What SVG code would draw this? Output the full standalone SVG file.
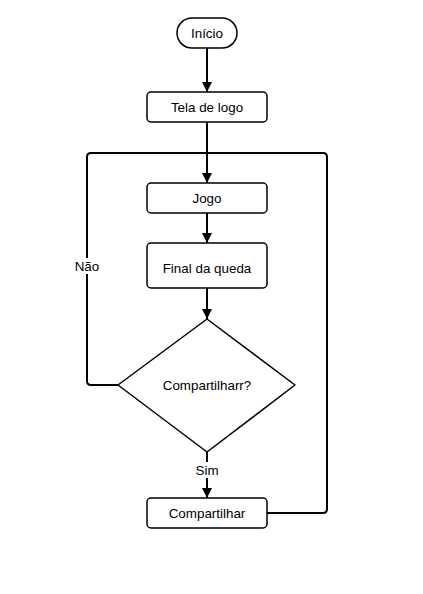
<svg xmlns="http://www.w3.org/2000/svg" width="423" height="594" viewBox="0 0 423 594">
<style>
.n{fill:#fff;stroke:#000;stroke-width:1.5}
.t{font-family:"Liberation Sans",Arial,sans-serif;font-size:13.4px;fill:#000;text-anchor:middle;dominant-baseline:central}
.c{fill:none;stroke:#000;stroke-width:2}
</style>
<defs>
<marker id="a" markerWidth="10" markerHeight="12" refX="10" refY="5" orient="auto" markerUnits="userSpaceOnUse" viewBox="0 0 10 10">
<path d="M0,0 L10,5 L0,10 Z" fill="#000"/>
</marker>
</defs>
<rect width="423" height="594" fill="#fff"/>
<g id="connectors">
<path class="c" d="M207,48 V92" marker-end="url(#a)"/>
<path class="c" d="M207,122 V183" marker-end="url(#a)"/>
<path class="c" d="M207,213 V243" marker-end="url(#a)"/>
<path class="c" d="M207,288 V319" marker-end="url(#a)"/>
<path class="c" d="M207,452 V498" marker-end="url(#a)"/>
<path class="c" d="M118,385 H91 Q87,385 87,381 V157 Q87,153 91,153 H207"/>
<path class="c" d="M267,513 H323 Q327,513 327,509 V157 Q327,153 323,153 H207"/>
<rect x="194" y="462" width="26" height="16" fill="#fff"/>
<text class="t" x="207" y="470">Sim</text>
<rect x="75" y="258" width="24" height="16" fill="#fff"/>
<text class="t" x="87" y="266">Não</text>
</g>
<g id="inicio"><rect class="n" x="177" y="18" width="60" height="30" rx="15"/><text class="t" x="207" y="33">Início</text></g>
<g id="tela"><rect class="n" x="147" y="92" width="120" height="30" rx="4"/><text class="t" x="207" y="107">Tela de logo</text></g>
<g id="jogo"><rect class="n" x="147" y="183" width="120" height="30" rx="4"/><text class="t" x="207" y="198">Jogo</text></g>
<g id="final"><rect class="n" x="147" y="243" width="120" height="45" rx="4"/><text class="t" x="207" y="268">Final da queda</text></g>
<g id="decisao"><path class="n" d="M207,319 L295,385 L207,452 L118,385 Z" stroke-linejoin="round"/><text class="t" x="207" y="385">Compartilharr?</text></g>
<g id="compartilhar"><rect class="n" x="147" y="498" width="120" height="30" rx="4"/><text class="t" x="207" y="513">Compartilhar</text></g>
</svg>
